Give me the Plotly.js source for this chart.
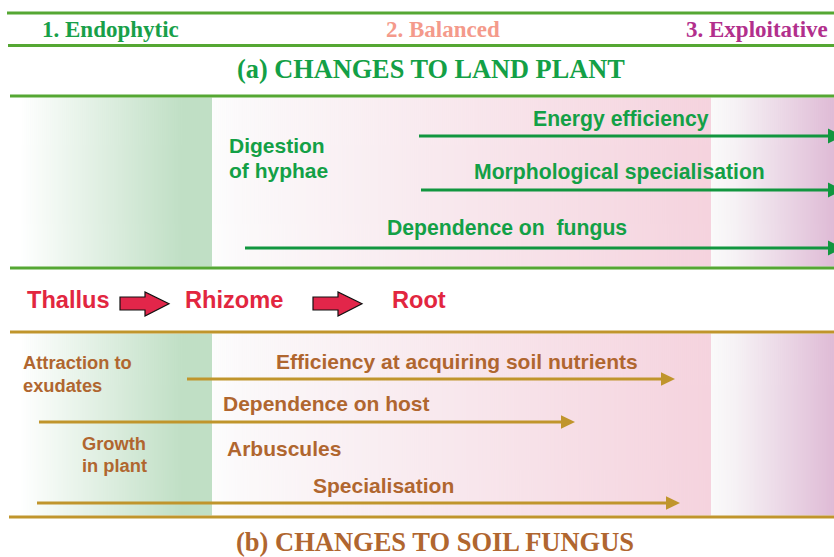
<!DOCTYPE html>
<html>
<head>
<meta charset="utf-8">
<script src="https://cdn.plot.ly/plotly-3.0.1.min.js"></script>
<style>html,body{margin:0;padding:0;background:#fff;}#chart{width:834px;height:557px;}</style>
</head>
<body>
<div id="chart"></div>
<script>
// ---- content / data ----
const stageLabels = ['1. Endophytic', '2. Balanced', '3. Exploitative'];
const sectionTitles = ['(a) CHANGES TO LAND PLANT', '(b) CHANGES TO SOIL FUNGUS'];
const plantTraits = ['Energy efficiency', 'Morphological specialisation', 'Dependence on  fungus'];
const plantTraitFrom = [419, 421, 245];
const plantTraitTo = [843, 843, 843];
const organs = ['Thallus', 'Rhizome', 'Root'];
const fungusTraits = ['Efficiency at acquiring soil nutrients', 'Dependence on host', 'Specialisation'];
const fungusTraitFrom = [187, 39, 37];
const fungusTraitTo = [675, 575, 680];
const plantEarly = ['Digestion', 'of hyphae'];
const fungusEarly = ['Attraction to', 'exudates', 'Growth', 'in plant', 'Arbuscules'];

// ---- styling / layout constants ----
const GREEN_LINE = '#55a733', GREEN_TXT = '#13a046', GREEN_ARR = '#11963f';
const GOLD_LINE = '#c0952c', BROWN_TXT = '#b0662f';
const RED = '#e2263f';
const SANS = 'Liberation Sans, Arial, sans-serif';
const SERIF = 'Liberation Serif, Times New Roman, serif';

// background gradient image
function gradientURL() {
  const c = document.createElement('canvas');
  c.width = 824; c.height = 2;
  const ctx = c.getContext('2d');
  const g = ctx.createLinearGradient(0, 0, 824, 0);
  const p = x => (x - 10) / 824;
  g.addColorStop(0, '#ffffff');
  g.addColorStop(p(20), '#ffffff');
  g.addColorStop(p(182), '#c0dfc5');
  g.addColorStop(p(211.5), '#c0dfc5');
  g.addColorStop(p(212), '#fdfdfd');
  g.addColorStop(p(240), '#fbf9fa');
  g.addColorStop(p(710.5), '#f5d3de');
  g.addColorStop(p(711), '#fafafa');
  g.addColorStop(p(735), '#f6f2f5');
  g.addColorStop(1, '#dfbbd6');
  ctx.fillStyle = g;
  ctx.fillRect(0, 0, 824, 2);
  return c.toDataURL('image/png');
}
const bg = gradientURL();

const traces = [];
const shapes = [];
const annotations = [];

function ann(text, x, y, color, size, family, xanchor) {
  annotations.push({text: text, x: x, y: y, xref: 'x', yref: 'y', showarrow: false,
    xanchor: xanchor || 'center', yanchor: 'middle', borderpad: 0,
    font: {color: color, size: size, family: family, weight: 'bold'}});
}

function arrow(x0, x1, y, color, hl, hh) {
  traces.push({type: 'scatter', mode: 'lines', x: [x0, x1 - hl + 1], y: [y, y],
    line: {color: color, width: 3}, hoverinfo: 'skip', showlegend: false});
  shapes.push({type: 'path', xref: 'x', yref: 'y', fillcolor: color, line: {width: 0},
    path: 'M' + x1 + ',' + y + ' L' + (x1 - hl) + ',' + (y - hh) + ' L' + (x1 - hl) + ',' + (y + hh) + ' Z'});
}

function hline(y, x0, color) {
  shapes.push({type: 'line', xref: 'x', yref: 'y', x0: x0, x1: 834, y0: y, y1: y,
    line: {color: color, width: 3}});
}

// header lines
hline(13, 7, GREEN_LINE);
hline(45.5, 8, GREEN_LINE);
hline(96, 10, GREEN_LINE);
hline(268, 10, GREEN_LINE);
hline(332, 10, GOLD_LINE);
hline(517, 9, GOLD_LINE);

// stage headers
ann(stageLabels[0], 110, 29, '#18a049', 23, SERIF);
ann(stageLabels[1], 443, 29, '#f49a8b', 23, SERIF);
ann(stageLabels[2], 829, 29, '#b22f8c', 23, SERIF, 'right');
ann(sectionTitles[0], 431, 69, GREEN_TXT, 26.3, SERIF);
ann(sectionTitles[1], 435, 542, BROWN_TXT, 26.5, SERIF);

// plant panel
const plantLabelX = [621, 619, 507];
const plantLabelY = [119, 172, 228];
const plantArrowY = [136, 190, 248];
for (let i = 0; i < plantTraits.length; i++) {
  ann(plantTraits[i], plantLabelX[i], plantLabelY[i], GREEN_TXT, 21.2, SANS);
  arrow(plantTraitFrom[i], plantTraitTo[i], plantArrowY[i], GREEN_ARR, 15, 7.5);
}
ann(plantEarly[0], 228, 145, GREEN_TXT, 21, SANS, 'left');
ann(plantEarly[1], 228, 170, GREEN_TXT, 21, SANS, 'left');

// organs
const organX = [68, 234, 419];
for (let i = 0; i < organs.length; i++) ann(organs[i], organX[i], 300, RED, 23.6, SANS);
const blockArrowX = [120, 313];
blockArrowX.forEach(function (x) {
  shapes.push({type: 'path', xref: 'x', yref: 'y', fillcolor: '#e2264a',
    line: {color: '#111', width: 1.2},
    path: 'M' + x + ',297 L' + (x + 25) + ',297 L' + (x + 25) + ',292 L' + (x + 49) + ',303.7 L' +
      (x + 25) + ',316 L' + (x + 25) + ',310 L' + x + ',310 Z'});
});

// fungus panel
const fungusLabelX = [457, 222, 383];
const fungusLabelAnchor = ['center', 'left', 'center'];
const fungusLabelY = [361, 403, 485];
const fungusArrowY = [379, 422, 503];
for (let i = 0; i < fungusTraits.length; i++) {
  ann(fungusTraits[i], fungusLabelX[i], fungusLabelY[i], BROWN_TXT, 21, SANS, fungusLabelAnchor[i]);
  arrow(fungusTraitFrom[i], fungusTraitTo[i], fungusArrowY[i], GOLD_LINE, 14, 6.8);
}
ann(fungusEarly[0], 22, 362, BROWN_TXT, 18.3, SANS, 'left');
ann(fungusEarly[1], 22, 385, BROWN_TXT, 18.3, SANS, 'left');
ann(fungusEarly[2], 81, 443, BROWN_TXT, 18.3, SANS, 'left');
ann(fungusEarly[3], 81, 465, BROWN_TXT, 18.3, SANS, 'left');
ann(fungusEarly[4], 226, 448, BROWN_TXT, 21, SANS, 'left');

const layout = {
  width: 834, height: 557,
  margin: {l: 0, r: 0, t: 0, b: 0, pad: 0},
  paper_bgcolor: '#ffffff', plot_bgcolor: '#ffffff',
  showlegend: false,
  xaxis: {range: [0, 834], visible: false, fixedrange: true},
  yaxis: {range: [557, 0], visible: false, fixedrange: true},
  images: [
    {source: bg, xref: 'x', yref: 'y', x: 10, y: 97.5, sizex: 824, sizey: 169, xanchor: 'left', yanchor: 'top', sizing: 'stretch', layer: 'below'},
    {source: bg, xref: 'x', yref: 'y', x: 10, y: 333.5, sizex: 824, sizey: 182, xanchor: 'left', yanchor: 'top', sizing: 'stretch', layer: 'below'}
  ],
  shapes: shapes,
  annotations: annotations
};

Plotly.newPlot('chart', traces, layout, {displayModeBar: false, staticPlot: true});
</script>
</body>
</html>
